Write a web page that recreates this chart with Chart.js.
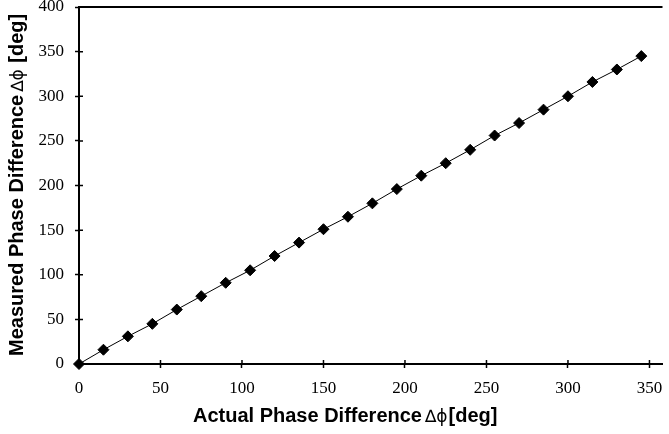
<!DOCTYPE html>
<html>
<head>
<meta charset="utf-8">
<script src="https://cdn.jsdelivr.net/npm/chart.js@4.4.1/dist/chart.umd.min.js"></script>
<style>
  html, body { margin: 0; padding: 0; background: #fff; }
</style>
</head>
<body>
<canvas id="stage" width="669" height="434"></canvas>
<script>
// data
const actualDeg   = [0, 15, 30, 45, 60, 75, 90, 105, 120, 135, 150, 165, 180, 195, 210, 225, 240, 255, 270, 285, 300, 315, 330, 345];
const measuredDeg = [0, 16, 31, 45, 61, 76, 91, 105, 121, 136, 151, 165, 180, 196, 211, 225, 240, 256, 270, 285, 300, 316, 330, 345];
const xTicks = [0, 50, 100, 150, 200, 250, 300, 350];
const yTicks = [0, 50, 100, 150, 200, 250, 300, 350, 400];

const xTitle = ['Actual Phase Difference', '\u2206\u03D5', '[deg]'];
const yTitle = ['Measured Phase Difference', '\u2206\u03D5', ' [deg]'];

const points = actualDeg.map((v, i) => ({ x: v, y: measuredDeg[i] }));

// titles with mixed fonts, inner tick halves, top frame line
const framePlugin = {
  id: 'frame',
  afterDraw(chart) {
    const ctx = chart.ctx;
    const area = chart.chartArea;
    const sx = chart.scales.x, sy = chart.scales.y;
    ctx.save();
    ctx.strokeStyle = '#000';

    // top border
    ctx.lineWidth = 2;
    ctx.beginPath();
    ctx.moveTo(area.left - 1, area.top);
    ctx.lineTo(area.right, area.top);
    ctx.stroke();

    // tick halves inside the plot
    ctx.lineWidth = 1.5;
    ctx.beginPath();
    xTicks.forEach(v => {
      const px = sx.getPixelForValue(v);
      ctx.moveTo(px, area.bottom);
      ctx.lineTo(px, area.bottom - 4);
    });
    yTicks.forEach(v => {
      const py = sy.getPixelForValue(v);
      ctx.moveTo(area.left, py);
      ctx.lineTo(area.left + 4, py);
    });
    ctx.stroke();

    const bold = 'bold 20px "Liberation Sans", Arial, sans-serif';
    const sym = '17px "DejaVu Sans", sans-serif';
    const drawParts = (parts) => {
      let x = 0;
      parts.forEach((t, i) => {
        ctx.font = (i === 1) ? sym : bold;
        ctx.fillText(t, x, 0);
        x += ctx.measureText(t).width + (i === 0 ? 3 : 1);
      });
    };
    ctx.fillStyle = '#000';
    ctx.textBaseline = 'alphabetic';
    ctx.textAlign = 'left';

    // x title
    ctx.save();
    ctx.translate(193, 422);
    drawParts(xTitle);
    ctx.restore();

    // y title
    ctx.save();
    ctx.translate(23, 356);
    ctx.rotate(-Math.PI / 2);
    drawParts(yTitle);
    ctx.restore();

    ctx.restore();
  }
};

new Chart(document.getElementById('stage'), {
  type: 'scatter',
  data: {
    datasets: [{
      data: points,
      showLine: true,
      clip: false,
      borderColor: '#000',
      borderWidth: 1,
      pointStyle: 'rectRot',
      pointRadius: 5.5,
      pointHoverRadius: 5.5,
      pointBackgroundColor: '#000',
      pointBorderColor: '#000',
      pointBorderWidth: 1
    }]
  },
  options: {
    responsive: false,
    animation: false,
    events: [],
    layout: { padding: { top: 7, right: 0, bottom: 0, left: 0 } },
    plugins: {
      legend: { display: false },
      tooltip: { enabled: false }
    },
    scales: {
      x: {
        type: 'linear',
        min: 0,
        max: 358,
        afterBuildTicks: s => { s.ticks = xTicks.map(v => ({ value: v })); },
        afterFit: s => { s.height = 70; s.paddingLeft = 0; s.paddingRight = 0; },
        grid: { drawOnChartArea: false, tickLength: 4, tickWidth: 1.5, tickColor: '#000' },
        border: { color: '#000', width: 2 },
        ticks: {
          color: '#000',
          font: { family: '"Liberation Serif", "Times New Roman", serif', size: 17 },
          padding: 10,
          maxRotation: 0,
          autoSkip: false
        }
      },
      y: {
        type: 'linear',
        min: 0,
        max: 400,
        afterBuildTicks: s => { s.ticks = yTicks.map(v => ({ value: v })); },
        afterFit: s => { s.width = 79; s.paddingTop = 0; s.paddingBottom = 0; },
        grid: { drawOnChartArea: false, tickLength: 4, tickWidth: 1.5, tickColor: '#000' },
        border: { color: '#000', width: 2 },
        ticks: {
          color: '#000',
          font: { family: '"Liberation Serif", "Times New Roman", serif', size: 17 },
          padding: 11,
          autoSkip: false
        }
      }
    }
  },
  plugins: [framePlugin]
});
</script>
</body>
</html>
